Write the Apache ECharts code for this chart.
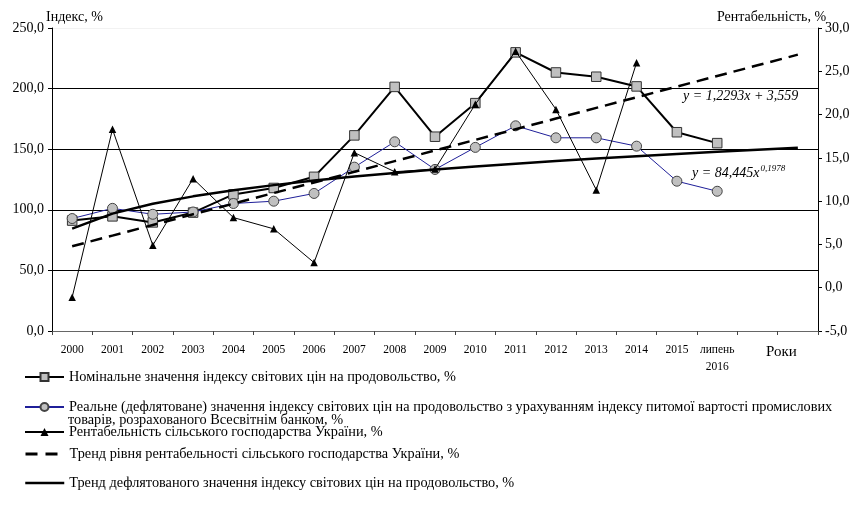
<!DOCTYPE html>
<html>
<head>
<meta charset="utf-8">
<script src="https://cdn.jsdelivr.net/npm/echarts@6/dist/echarts.min.js"></script>
<style>
  html, body { margin: 0; padding: 0; background: #fff; }
  #chart { width: 856px; height: 515px; }
</style>
</head>
<body>
<div id="chart"></div>
<script>
// Years on the category axis; the last two slots carry only the trend lines
const categories = ['2000', '2001', '2002', '2003', '2004', '2005', '2006', '2007', '2008',
  '2009', '2010', '2011', '2012', '2013', '2014', '2015', 'липень\n2016', '', ''];

// Nominal world food price index, %
const nominalIndex = [91.1, 94.6, 89.6, 97.7, 112.7, 118.0, 127.2, 161.4, 201.4,
  160.3, 188.0, 229.9, 213.3, 209.8, 201.8, 164.0, 155.0];

// Real (deflated) world food price index, %
const realIndex = [92.8, 101.2, 96.3, 98.2, 105.2, 107.1, 113.5, 135.2, 156.1,
  133.3, 151.5, 169.3, 159.4, 159.4, 152.5, 123.6, 115.3];

// Profitability of Ukrainian agriculture, % (right axis)
const profitability = [-1.1, 18.3, 4.9, 12.6, 8.1, 6.8, 2.9, 15.6, 13.4,
  13.7, 21.2, 27.3, 20.6, 11.3, 26.0];

// Linear trend of profitability, y = 1,2293x + 3,559 (x = 1..19)
const profitTrend = [4.79, 6.02, 7.25, 8.48, 9.71, 10.94, 12.16, 13.39, 14.62, 15.85,
  17.08, 18.31, 19.54, 20.77, 22.00, 23.23, 24.46, 25.69, 26.92];

// Power trend of the deflated index, y = 84,445x^0,1978 (x = 1..19)
const realTrend = [84.45, 96.85, 104.94, 111.09, 116.10, 120.36, 124.09, 127.41, 130.41, 133.16,
  135.69, 138.05, 140.25, 142.32, 144.28, 146.13, 147.90, 149.58, 151.18];

// Axis tick values
const leftTicks = { min: 0, max: 250, step: 50 };
const rightTicks = { min: -5, max: 30, step: 5 };

const seriesNames = [
  'Номінальне значення індексу світових цін на продовольство, %',
  'Реальне (дефлятоване) значення індексу світових цін на продовольство з урахуванням індексу питомої вартості промислових товарів, розрахованого Всесвітнім банком, %',
  'Рентабельність сільського господарства України, %',
  'Тренд рівня рентабельності сільського господарства України, %',
  'Тренд дефлятованого значення індексу світових цін на продовольство, %'
];
const realNameLine1 = 'Реальне (дефлятоване) значення індексу світових цін на продовольство з урахуванням індексу питомої вартості промислових';
const realNameLine2 = 'товарів, розрахованого Всесвітнім банком, %';

const FONT = '"Liberation Serif", "Times New Roman", serif';
const fmt = v => v.toFixed(1).replace('.', ',');

// vertical centres of the legend rows
const legendRows = [378, 408, 433, 455, 484];

// legend icon line styles: marker rows inherit from their series, trend rows show a bare line
const legendLines = [
  {},
  {},
  {},
  { color: '#000', width: 3, type: [12, 8] },
  { color: '#000', width: 2.5, type: 'solid' }
];

const chart = echarts.init(document.getElementById('chart'), null, { renderer: 'canvas' });

chart.setOption({
  animation: false,
  backgroundColor: '#fff',
  textStyle: { fontFamily: FONT, color: '#000' },
  grid: { left: 52, right: 38, top: 28, height: 303, containLabel: false },
  xAxis: {
    type: 'category',
    data: categories,
    boundaryGap: true,
    axisLine: { lineStyle: { color: '#666', width: 1 } },
    axisTick: { show: true, length: 4, lineStyle: { color: '#444' } },
    axisLabel: { fontFamily: FONT, fontSize: 11.5, color: '#000', margin: 10, lineHeight: 17, interval: 0 },
    splitLine: { show: false }
  },
  yAxis: [
    {
      type: 'value',
      min: leftTicks.min, max: leftTicks.max, interval: leftTicks.step,
      position: 'left',
      axisLine: { show: true, lineStyle: { color: '#000', width: 1 } },
      axisTick: { show: true, length: 4, lineStyle: { color: '#000' } },
      axisLabel: { fontFamily: FONT, fontSize: 14, color: '#000', margin: 8, formatter: fmt },
      splitLine: { show: true, lineStyle: { color: ['#666', '#000', '#000', '#000', '#000', '#f2f2f2'], width: 1 } }
    },
    {
      type: 'value',
      min: rightTicks.min, max: rightTicks.max, interval: rightTicks.step,
      position: 'right',
      axisLine: { show: true, lineStyle: { color: '#000', width: 1 } },
      axisTick: { show: true, length: 4, lineStyle: { color: '#000' } },
      axisLabel: { fontFamily: FONT, fontSize: 14, color: '#000', margin: 7, formatter: fmt },
      splitLine: { show: false }
    }
  ],
  legend: seriesNames.map((name, i) => ({
    data: [name],
    left: 24,
    top: legendRows[i] - 8,
    padding: 0,
    itemWidth: 39,
    itemHeight: 10,
    selectedMode: false,
    lineStyle: legendLines[i],
    itemStyle: i >= 3 ? { opacity: 0 } : {},
    textStyle: { fontFamily: FONT, fontSize: 14.3, color: '#000' },
    formatter: n => (n === seriesNames[1] ? realNameLine1 : n)
  })),
  series: [
    {
      name: seriesNames[0],
      type: 'line',
      yAxisIndex: 0,
      data: nominalIndex,
      z: 2,
      symbol: 'rect',
      symbolSize: 9.5,
      lineStyle: { color: '#000', width: 2 },
      itemStyle: { color: '#c0c0c0', borderColor: '#333', borderWidth: 1 }
    },
    {
      name: seriesNames[1],
      type: 'line',
      yAxisIndex: 0,
      data: realIndex,
      z: 3,
      symbol: 'circle',
      symbolSize: 10,
      lineStyle: { color: '#1f1f99', width: 1 },
      itemStyle: { color: '#c0c0c0', borderColor: '#444', borderWidth: 1 }
    },
    {
      name: seriesNames[2],
      type: 'line',
      yAxisIndex: 1,
      data: profitability,
      z: 4,
      symbol: 'triangle',
      symbolSize: 7.5,
      lineStyle: { color: '#000', width: 1 },
      itemStyle: { color: '#000' }
    },
    {
      name: seriesNames[3],
      type: 'line',
      yAxisIndex: 1,
      data: profitTrend,
      z: 5,
      symbol: 'none',
      lineStyle: { color: '#000', width: 2.5, type: [12, 7] },
      itemStyle: { color: '#000' }
    },
    {
      name: seriesNames[4],
      type: 'line',
      yAxisIndex: 0,
      data: realTrend,
      z: 5,
      symbol: 'none',
      lineStyle: { color: '#000', width: 2.5 },
      itemStyle: { color: '#000' }
    }
  ],
  graphic: [
    { type: 'text', left: 46, top: 10, style: { text: 'Індекс, %', font: '14px ' + FONT, fill: '#000' } },
    { type: 'text', left: 717, top: 10, style: { text: 'Рентабельність, %', font: '14px ' + FONT, fill: '#000' } },
    { type: 'text', left: 766, top: 345, style: { text: 'Роки', font: '15px ' + FONT, fill: '#000' } },
    { type: 'text', left: 683, top: 89, style: { text: 'y = 1,2293x + 3,559', font: 'italic 14px ' + FONT, fill: '#000' } },
    {
      type: 'text', left: 692, top: 164,
      style: {
        text: '{m|y = 84,445x}{s|0,1978}',
        rich: {
          m: { fontFamily: FONT, fontStyle: 'italic', fontSize: 14, lineHeight: 18 },
          s: { fontFamily: FONT, fontStyle: 'italic', fontSize: 9, lineHeight: 18, padding: [0, 0, 9, 1] }
        },
        fill: '#000'
      }
    },
    { type: 'text', left: 68, top: legendRows[1] + 5, style: { text: realNameLine2, font: '14.3px ' + FONT, fill: '#000' } }
  ]
});
</script>
</body>
</html>
